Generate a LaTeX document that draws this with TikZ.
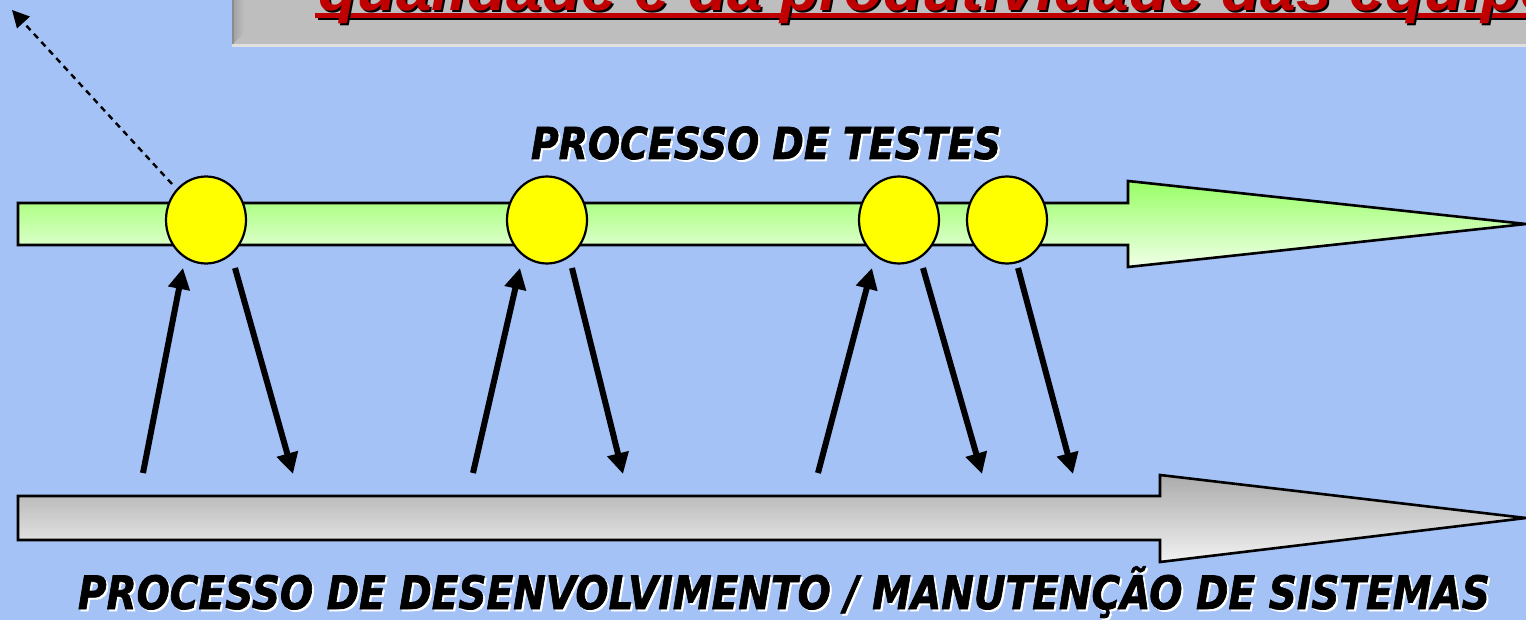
\documentclass[tikz,border=0pt]{standalone}
\usepackage{fontspec}
\usepackage{graphicx}
\usetikzlibrary{arrows.meta,shapes.geometric}
\newfontfamily\lblfont{DejaVu Sans}[BoldItalicFeatures={FakeBold=1.6}]
\newfontfamily\ttlfont{Liberation Sans}
\definecolor{bgblue}{HTML}{A4C2F6}
\definecolor{ttlred}{HTML}{C00000}
\definecolor{bannergray}{HTML}{BEBEBE}
\definecolor{greentop}{HTML}{99FF66}
\definecolor{greenbot}{HTML}{F0FFE8}
\definecolor{graytop}{HTML}{ABABAB}
\definecolor{graybot}{HTML}{F2F2F2}
\definecolor{ptyellow}{HTML}{FFFF00}
\tikzset{
  bigarrow/.style={draw=black, line width=2.6pt, line join=miter},
  testpoint/.style={ellipse, draw=black, line width=2.2pt, fill=ptyellow, minimum width=80pt, minimum height=87pt, inner sep=0pt},
  flow/.style={line width=6pt, -{Triangle[length=21pt,width=21pt]}},
  outflow/.style={black, line width=2.4pt, dash pattern=on 6pt off 5pt, -{Triangle[length=17pt,width=17pt]}},
  lbl/.style={inner sep=0pt, anchor=base}
}
\newcommand{\toplbl}{\resizebox{470pt}{\height}{\fontsize{44}{44}\selectfont\lblfont\bfseries\itshape PROCESSO DE TESTES}}
\newcommand{\botlbl}{\resizebox{1412pt}{\height}{\fontsize{46}{46}\selectfont\lblfont\bfseries\itshape PROCESSO DE DESENVOLVIMENTO / MANUTENÇÃO DE SISTEMAS}}
\newcommand{\ttltext}{\fontsize{64}{64}\selectfont\ttlfont\bfseries\itshape qualidade e da produtividade das equipes}
\begin{document}
\begin{tikzpicture}[x=1pt,y=-1pt]
\useasboundingbox (0,0) rectangle (1526,620);
\clip (0,0) rectangle (1526,620);
\fill[bgblue] (0,0) rectangle (1526,620);
% title banner
\fill[bannergray] (232,-5) rectangle (1530,47);
\shade[left color=black!38, right color=bannergray] (232,-5) -- (244,-5) -- (244,33) -- (232,45) -- cycle;
\fill[black!45] (232,-5) rectangle (234,47);
\fill[black!12] (232,44) rectangle (1530,47);
\fill[black] (318,15) rectangle (1530,20);
\fill[ttlred] (315,13) rectangle (1530,18);
\node[lbl, anchor=base west, text=black] (ttlshadow) at (320,13) {\ttltext};
\node[lbl, anchor=base west, text=ttlred] (ttl) at (318,11) {\ttltext};
% testing process arrow
\path[bigarrow, top color=greentop, bottom color=greenbot]
  (18,203) -- (1128,203) -- (1128,181) -- (1526,224) -- (1128,267) -- (1128,245) -- (18,245) -- cycle;
% development process arrow
\path[bigarrow, top color=graytop, bottom color=graybot]
  (18,496) -- (1160,496) -- (1160,475) -- (1526,518) -- (1160,562) -- (1160,540) -- (18,540) -- cycle;
% labels
\node[lbl, text=white] (tlsh) at (768,161) {\toplbl};
\node[lbl, text=black] (tl) at (766,159) {\toplbl};
\node[lbl, text=white] (blsh) at (786,611) {\botlbl};
\node[lbl, text=black] (bl) at (784,609) {\botlbl};
% test points
\node[testpoint] (c1) at (206,220) {};
\node[testpoint] (c2) at (547,220) {};
\node[testpoint] (c3) at (899,220) {};
\node[testpoint] (c4) at (1007,220) {};
% connector end points
\coordinate (u1s) at (143,473); \coordinate (u1e) at (183,268);
\coordinate (d1s) at (235,268); \coordinate (d1e) at (293,474);
\coordinate (u2s) at (473,473); \coordinate (u2e) at (520,268);
\coordinate (d2s) at (572,268); \coordinate (d2e) at (623,474);
\coordinate (u3s) at (818,473); \coordinate (u3e) at (872,268);
\coordinate (d3s) at (923,268); \coordinate (d3e) at (982,474);
\coordinate (d4s) at (1018,268); \coordinate (d4e) at (1073,474);
\coordinate (outs) at (172,184); \coordinate (oute) at (12,10);
\draw[flow] (u1s) -- (u1e);
\draw[flow] (d1s) -- (d1e);
\draw[flow] (u2s) -- (u2e);
\draw[flow] (d2s) -- (d2e);
\draw[flow] (u3s) -- (u3e);
\draw[flow] (d3s) -- (d3e);
\draw[flow] (d4s) -- (d4e);
\draw[outflow] (outs) -- (oute);
\end{tikzpicture}
\end{document}
